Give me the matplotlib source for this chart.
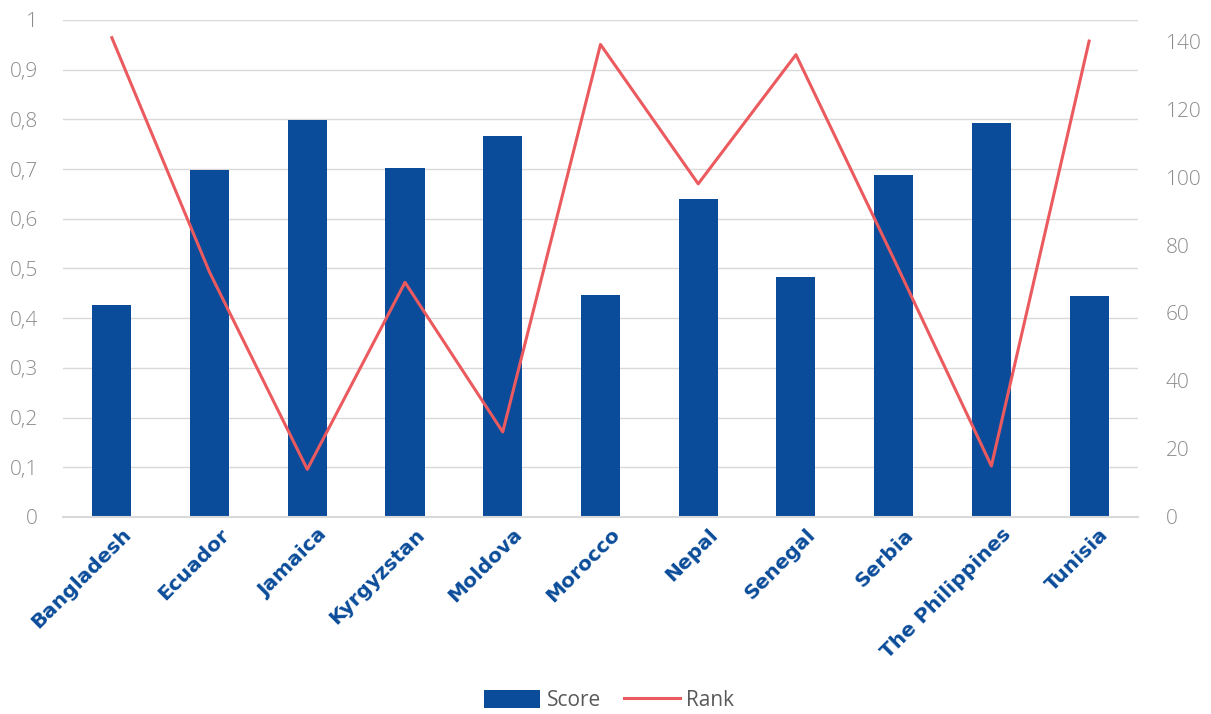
import numpy as np
import matplotlib.pyplot as plt
import matplotlib.transforms as mtransforms
from matplotlib.ticker import FuncFormatter

# ── Data ──────────────────────────────────────────────
countries = ["Bangladesh", "Ecuador", "Jamaica", "Kyrgyzstan", "Moldova", "Morocco",
             "Nepal", "Senegal", "Serbia", "The Philippines", "Tunisia"]
score = [0.427, 0.698, 0.799, 0.702, 0.766, 0.446, 0.640, 0.482, 0.689, 0.793, 0.444]
rank = [141, 72, 14, 69, 25, 139, 98, 136, 76, 15, 140]

# ── Style ─────────────────────────────────────────────
BAR_COLOR = "#0B4C9A"
LINE_COLOR = "#EB5A5E"
GRID_COLOR = "#D9D9D9"
TICK_COLOR = "#8C8C8C"
plt.rcParams["font.family"] = ["Open Sans", "DejaVu Sans"]

fig = plt.figure(figsize=(12.11, 7.14), dpi=100)
ax = fig.add_axes([0.052, 0.276, 0.8877, 0.696])
x = np.arange(len(countries))

ax.bar(x, score, width=0.4, color=BAR_COLOR, zorder=2, label="Score")
ax.set_xlim(-0.5, len(countries) - 0.5)
ax.set_ylim(0, 1)
ax.set_yticks(np.arange(0, 1.01, 0.1))
ax.yaxis.set_major_formatter(FuncFormatter(
    lambda v, _: "0" if abs(v) < 1e-9 else ("1" if abs(v - 1) < 1e-9 else f"{v:.1f}".replace(".", ","))))
ax.grid(axis="y", color=GRID_COLOR, linewidth=1, zorder=0)
ax.set_axisbelow(True)

# category labels: rotated, nudged right so their ends sit beside the bars
ax.set_xticks(x)
ax.set_xticklabels([])
offset = mtransforms.ScaledTranslation(10 / 100, -8 / 100, fig.dpi_scale_trans)
for i, name in enumerate(countries):
    ax.text(i, 0, name, transform=ax.get_xaxis_transform() + offset,
            rotation=45, ha="right", va="top", rotation_mode="anchor",
            fontsize=14.5, fontweight="bold", color=BAR_COLOR, family=["DejaVu Sans"])
ax.tick_params(axis="x", length=0)
ax.tick_params(axis="y", length=0, labelsize=15, labelcolor=TICK_COLOR, pad=18)
for lbl in ax.get_yticklabels():
    lbl.set_fontweight("light")
for s in ["top", "right", "left"]:
    ax.spines[s].set_visible(False)
ax.spines["bottom"].set_color(GRID_COLOR)
ax.spines["bottom"].set_linewidth(1.5)

ax2 = ax.twinx()
ax2.plot(x, rank, color=LINE_COLOR, linewidth=2.2, zorder=3, label="Rank")
ax2.set_ylim(0, 146.2)
ax2.set_yticks(np.arange(0, 141, 20))
ax2.tick_params(axis="y", length=0, labelsize=15, labelcolor=TICK_COLOR, pad=20)
for lbl in ax2.get_yticklabels():
    lbl.set_fontweight("light")
for s in ["top", "right", "left", "bottom"]:
    ax2.spines[s].set_visible(False)

h1, l1 = ax.get_legend_handles_labels()
h2, l2 = ax2.get_legend_handles_labels()
fig.legend(h1 + h2, l1 + l2, loc="center", bbox_to_anchor=(0.503, 0.019), ncol=2,
           frameon=False, fontsize=15, labelcolor="#595959", handlelength=2.7,
           handleheight=1.0, columnspacing=1.1, handletextpad=0.3)

fig.savefig("out.png", dpi=100)
